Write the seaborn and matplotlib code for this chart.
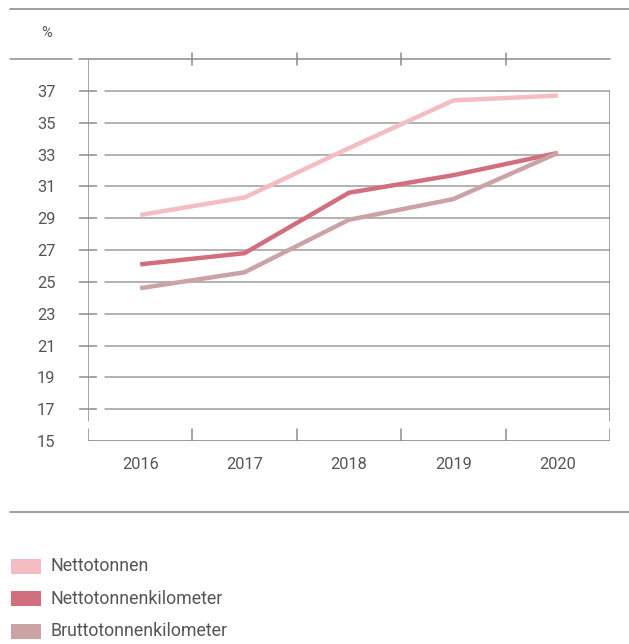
import matplotlib
matplotlib.use("Agg")
import matplotlib.pyplot as plt
from matplotlib.lines import Line2D
from matplotlib.patches import Rectangle
import seaborn as sns
import pandas as pd

years = [2016, 2017, 2018, 2019, 2020]
nettotonnen = [29.2, 30.3, 33.4, 36.4, 36.7]
nettotonnenkilometer = [26.1, 26.8, 30.6, 31.7, 33.1]
bruttotonnenkilometer = [24.6, 25.6, 28.9, 30.2, 33.1]
series_names = ["Nettotonnen", "Nettotonnenkilometer", "Bruttotonnenkilometer"]
series_colors = ["#f3bdc1", "#d16f7e", "#cba3a5"]
y_ticks = [15, 17, 19, 21, 23, 25, 27, 29, 31, 33, 35, 37]
unit_label = "%"

df = pd.DataFrame({
    "Jahr": years * 3,
    "Wert": nettotonnen + nettotonnenkilometer + bruttotonnenkilometer,
    "Reihe": [n for n in series_names for _ in years],
})

sns.set_theme(style="white")
plt.rcParams["font.family"] = ["Roboto", "DejaVu Sans"]

W, H = 629, 644
fig = plt.figure(figsize=(W / 100, H / 100), dpi=100)
ax_left, ax_right, ax_top, ax_bottom = 88, 610, 59, 441
ax = fig.add_axes([ax_left / W, 1 - ax_bottom / H,
                   (ax_right - ax_left) / W, (ax_bottom - ax_top) / H])

frame_c = "#8c8c8c"
grid_c = "#9c9c9c"
text_c = "#555555"

ax.set_xlim(2015.5, 2020.5)
ax.set_ylim(15, 39)
for s in ax.spines.values():
    s.set_visible(False)

# horizontal grid, starting a little right of the y axis
for y in y_ticks[1:]:
    ax.axhline(y, xmin=0.033, xmax=1, color=grid_c, lw=1.1, zorder=1)

sns.lineplot(data=df, x="Jahr", y="Wert", hue="Reihe", hue_order=series_names,
             palette=series_colors, linewidth=3.2, legend=False, ax=ax,
             zorder=3, solid_capstyle="butt")

ax_h = ax_bottom - ax_top
ax_w = ax_right - ax_left
gap_frac = (ax_bottom - 421) / ax_h
# left axis and right frame line
ax.axvline(2015.5, ymin=gap_frac, ymax=1, color=frame_c, lw=1.1, zorder=2)
ax.plot([2020.5, 2020.5], [37, 15 + 24 * gap_frac], color=frame_c, lw=1.1, zorder=2)
# bottom axis with upward category separators
ax.axhline(15, color=frame_c, lw=1.2, zorder=2)
for xb in [2015.5, 2016.5, 2017.5, 2018.5, 2019.5, 2020.5]:
    ax.axvline(xb, ymin=0, ymax=12 / ax_h, color=frame_c, lw=1.1, zorder=2)
# top line with crossing separators
ax.plot([-9 / ax_w, 1], [1, 1], transform=ax.transAxes, color=frame_c,
        lw=1.1, clip_on=False, zorder=2)
for xb in [2016.5, 2017.5, 2018.5, 2019.5]:
    ax.plot([xb, xb], [39 - 6 * 24 / ax_h, 39 + 6 * 24 / ax_h], color=frame_c,
            lw=1.1, clip_on=False, zorder=2)

ax.set_xticks(years)
ax.set_xticklabels([str(y) for y in years])
ax.set_yticks(y_ticks)
ax.set_yticklabels([str(y) for y in y_ticks])
ax.tick_params(axis="x", length=0, pad=11.5, labelsize=11.8, labelcolor=text_c)
ax.tick_params(axis="y", direction="inout", length=13, width=1.1, color=frame_c,
               pad=17, labelsize=11.8, labelcolor=text_c, left=True)
ax.yaxis.get_major_ticks()[0].tick1line.set_visible(False)
ax.set_xlabel("")
ax.set_ylabel("")

# header and separator rules
fig.add_artist(Line2D([10 / W, 1], [1 - 9 / H, 1 - 9 / H], color=frame_c, lw=1.2))
fig.add_artist(Line2D([10 / W, 72 / W], [1 - 59 / H, 1 - 59 / H], color=frame_c, lw=1.1))
fig.add_artist(Line2D([10 / W, 1], [1 - 512 / H, 1 - 512 / H], color=frame_c, lw=1.2))
fig.text(47 / W, 1 - 33 / H, unit_label, ha="center", va="center",
         fontsize=10.5, color=text_c)

# legend
for i, (name, col) in enumerate(zip(series_names, series_colors)):
    yc = 566 + i * 32.5
    fig.add_artist(Rectangle((11 / W, 1 - (yc + 7.5) / H), 30 / W, 15 / H,
                             transform=fig.transFigure, facecolor=col,
                             edgecolor="none"))
    fig.text(50 / W, 1 - yc / H, name, ha="left", va="center",
             fontsize=12.8, color=text_c)

fig.savefig("out.png", dpi=100, facecolor="white")
